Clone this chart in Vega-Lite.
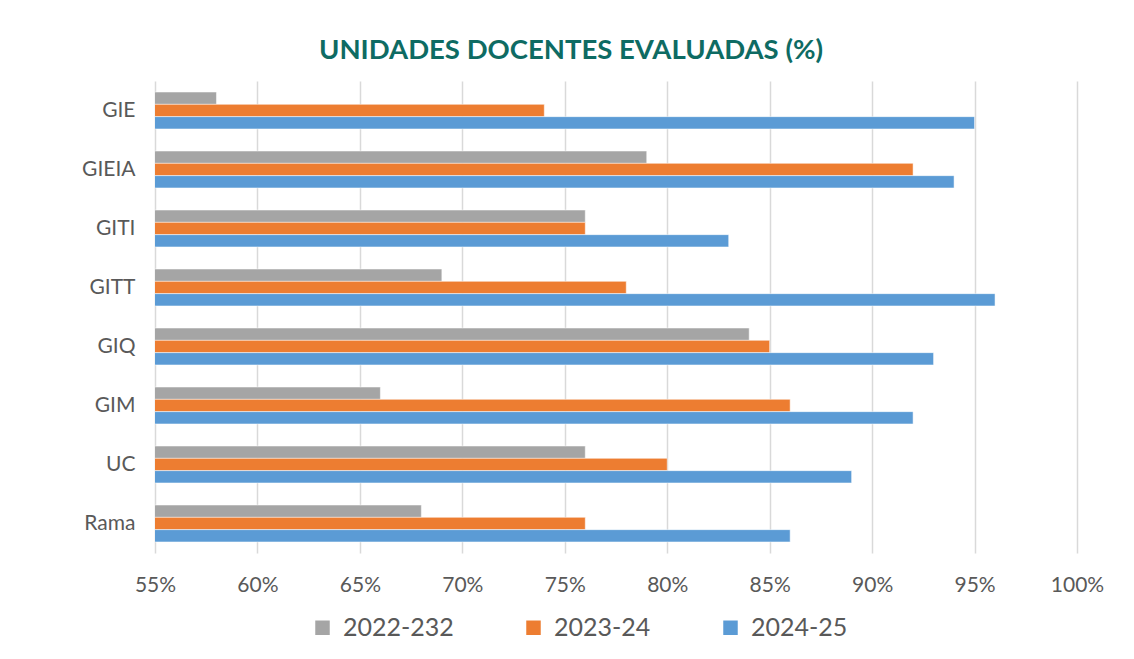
{
  "$schema": "https://vega.github.io/schema/vega-lite/v6.json",
  "width": 922,
  "height": 472,
  "autosize": {"type": "none"},
  "padding": {"left": 155, "top": 81, "right": 57, "bottom": 106},
  "background": "white",
  "title": {
    "text": "UNIDADES DOCENTES EVALUADAS (%)",
    "font": "Lato",
    "fontSize": 27.5,
    "fontWeight": "bold",
    "color": "#0E6B63",
    "anchor": "middle",
    "dx": -45,
    "offset": 17
  },
  "data": {
    "values": [
      {"unidad": "GIE", "curso": "2022-232", "valor": 0.58},
      {"unidad": "GIE", "curso": "2023-24", "valor": 0.74},
      {"unidad": "GIE", "curso": "2024-25", "valor": 0.95},
      {"unidad": "GIEIA", "curso": "2022-232", "valor": 0.79},
      {"unidad": "GIEIA", "curso": "2023-24", "valor": 0.92},
      {"unidad": "GIEIA", "curso": "2024-25", "valor": 0.94},
      {"unidad": "GITI", "curso": "2022-232", "valor": 0.76},
      {"unidad": "GITI", "curso": "2023-24", "valor": 0.76},
      {"unidad": "GITI", "curso": "2024-25", "valor": 0.83},
      {"unidad": "GITT", "curso": "2022-232", "valor": 0.69},
      {"unidad": "GITT", "curso": "2023-24", "valor": 0.78},
      {"unidad": "GITT", "curso": "2024-25", "valor": 0.96},
      {"unidad": "GIQ", "curso": "2022-232", "valor": 0.84},
      {"unidad": "GIQ", "curso": "2023-24", "valor": 0.85},
      {"unidad": "GIQ", "curso": "2024-25", "valor": 0.93},
      {"unidad": "GIM", "curso": "2022-232", "valor": 0.66},
      {"unidad": "GIM", "curso": "2023-24", "valor": 0.86},
      {"unidad": "GIM", "curso": "2024-25", "valor": 0.92},
      {"unidad": "UC", "curso": "2022-232", "valor": 0.76},
      {"unidad": "UC", "curso": "2023-24", "valor": 0.80},
      {"unidad": "UC", "curso": "2024-25", "valor": 0.89},
      {"unidad": "Rama", "curso": "2022-232", "valor": 0.68},
      {"unidad": "Rama", "curso": "2023-24", "valor": 0.76},
      {"unidad": "Rama", "curso": "2024-25", "valor": 0.86}
    ]
  },
  "mark": {"type": "bar", "clip": true, "stroke": "white", "strokeWidth": 0.5},
  "encoding": {
    "y": {
      "field": "unidad",
      "type": "nominal",
      "sort": ["GIE", "GIEIA", "GITI", "GITT", "GIQ", "GIM", "UC", "Rama"],
      "scale": {"paddingInner": 0.374, "paddingOuter": 0.187},
      "axis": {
        "title": null,
        "ticks": false,
        "domain": false,
        "labelFont": "Lato",
        "labelFontSize": 21,
        "labelColor": "#595959",
        "labelPadding": 20
      }
    },
    "yOffset": {
      "field": "curso",
      "type": "nominal",
      "sort": ["2022-232", "2023-24", "2024-25"]
    },
    "x": {
      "field": "valor",
      "type": "quantitative",
      "scale": {"domain": [0.55, 1.0], "nice": false, "zero": false},
      "axis": {
        "title": null,
        "format": ".0%",
        "values": [0.55, 0.6, 0.65, 0.7, 0.75, 0.8, 0.85, 0.9, 0.95, 1.0],
        "ticks": false,
        "domain": false,
        "grid": true,
        "gridColor": "#D9D9D9",
        "gridWidth": 1.5,
        "labelFlush": false,
        "labelFont": "Lato",
        "labelFontSize": 21,
        "labelColor": "#595959",
        "labelPadding": 21
      }
    },
    "color": {
      "field": "curso",
      "type": "nominal",
      "sort": ["2022-232", "2023-24", "2024-25"],
      "scale": {
        "domain": ["2022-232", "2023-24", "2024-25"],
        "range": ["#A5A5A5", "#ED7D31", "#5B9BD5"]
      },
      "legend": {
        "title": null,
        "orient": "none",
        "direction": "horizontal",
        "legendX": 155,
        "legendY": 534,
        "symbolType": "square",
        "symbolSize": 210,
        "symbolStrokeWidth": 0,
        "labelFont": "Lato",
        "labelFontSize": 25,
        "labelColor": "#595959",
        "labelOffset": 8,
        "columnPadding": 67
      }
    }
  },
  "config": {
    "view": {"stroke": null}
  }
}
